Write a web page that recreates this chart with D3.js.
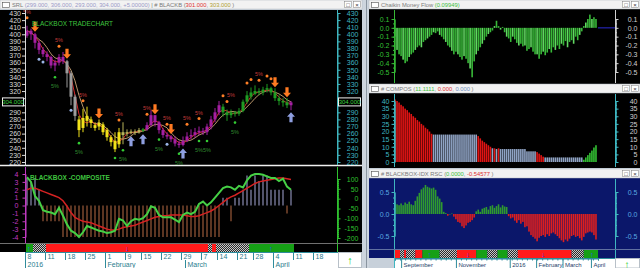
<!DOCTYPE html>
<html>
<head>
<meta charset="utf-8">
<script src="https://cdn.jsdelivr.net/npm/d3@7"></script>
<style>
  body { margin: 0; background: #c7d0da; }
  svg { display: block; font-family: "Liberation Sans", Arial, sans-serif; }
</style>
</head>
<body>
<div id="chart"></div>
<script>
// ---- left window: daily candles, early Jan to Apr 8 2016 ----
var openPx  = [398,405,400,388,378,372,368,356,360,368, 362,345,312,280,268,285,280,272,270,273,
               265,255,250,245,262,260,262,263,262,265, 266,272,286,276,265,258,256,252,246,244,
               250,256,258,262,264,262,270,280,290,298, 290,286,290,288,292,305,312,316,320,318,
               322,324,318,310,306,304,300];
var closePx = [405,400,388,378,372,368,356,360,368,362, 345,312,285,265,282,278,275,268,275,262,
               255,248,238,262,258,262,263,262,265,266, 272,286,276,265,258,256,252,246,244,250,
               256,258,262,264,262,270,280,290,300,290, 286,290,288,292,305,314,318,320,318,322,
               324,318,310,306,304,300,304];
var highPx  = [412,408,402,392,382,376,370,364,372,375, 364,348,315,285,295,298,284,276,280,276,
               268,258,262,268,276,266,266,266,268,268, 276,293,286,278,268,262,258,256,250,256,
               262,266,268,270,268,274,285,296,306,302, 294,294,292,296,308,320,325,328,324,326,
               330,326,324,314,310,310,306];
var lowPx   = [395,392,380,372,368,362,352,348,356,358, 325,300,278,255,262,270,268,264,265,258,
               250,242,234,240,245,256,259,258,260,262, 264,270,270,260,254,252,248,242,240,242,
               248,252,254,258,258,258,266,276,286,284, 278,282,284,285,290,302,308,314,314,314,
               318,314,306,300,298,296,293];
var candleTone = ("mmmmmmmmmm" + "ggg" + "yyyyyyyyyyy" + "ooooo" + "G" +
                  "mmmmmmmmmmmmmmmmmmm" + "GGGGGGGGGGGGGGGGG" + "m").split("");

var dayLabels   = ["8","11","18","25","1","9","15","22","29","7","14","21","28","4","11","18"];
var dayLabelIdx = [0,5,10,15,20,25,29,34,39,44,48,53,57,62,67,72];
var monthLabels   = ["2016","February","March","April"];
var monthLabelIdx = [0,20,40,62];

var priceTicks = [430,420,410,400,390,380,370,360,350,340,330,320,310,300,290,280,270,260,250,240,230,220];
var compTicks = [4,3,2,1,0,-1,-2,-3,-4];
var compRightTicks = [100,50,0,-50,-100,-150,-200];

// trade signals drawn on the candles (candle index)
var downArrowIdx = [2,10,18,32,36,62,65];
var upArrowIdx = [26,29,39,66];
var topDotIdx = [0,8,14,23,30,35,40,43,49,50,55,56,58,60,61];
var topPctIdx = [0,8,14,23,30,35,40,43,51,58];
var bottomDotIdx = [7,13,22,24,33,38,43,45,52];
var bottomPctIdx = [7,13,24,33,38,43,45,52];
var blueDotIdx = [3,4,11,35];

// BLACKBOX-COMPOSITE
var compLine = [3.6,3.0,1.2,0.6,-0.6,-0.8,-0.9,-1.1,-0.3,-1.3,
                -2.4,-3.2,-3.5,-4.0,-3.4,-2.6,-2.8,-3.0,-3.2,-3.3,
                -3.5,-3.4,-3.2,-1.7,-1.9,-2.6,-2.0,-1.7,-1.8,-1.6,
                -1.1,-0.1,-0.3,-1.2,-1.5,-1.5,-1.5,-1.8,-2.1,-1.2,
                -0.9,-1.1,-0.8,0.2,0.5,0.0,0.4,1.0,1.6,2.2,
                2.4,2.3,2.0,2.5,2.3,3.2,3.8,4.0,4.0,3.9,
                3.7,3.5,3.5,3.1,3.4,2.4,2.0];
var compAvg = [2.0,2.2,2.2,2.0,1.8,1.6,1.4,1.2,1.0,0.6,
               -0.1,-0.9,-1.5,-1.8,-2.0,-2.1,-2.2,-2.4,-2.6,-2.8,
               -3.0,-3.1,-3.1,-3.0,-2.8,-2.7,-2.6,-2.5,-2.3,-2.1,
               -1.9,-1.7,-1.5,-1.4,-1.3,-1.3,-1.2,-1.2,-1.2,-1.2,
               -1.3,-1.4,-1.4,-1.3,-1.1,-0.9,-0.7,-0.4,0.0,0.4,
               0.8,1.1,1.3,1.6,1.9,2.2,2.5,2.8,3.0,3.1,
               3.2,3.3,3.4,3.5,3.5,3.4,3.3];
var compBar = [3.5,3.0,3.5,2.0,-2,-2,-2,-2,-2,-4,
               -4,-4,-4,-4,-4,-4,-4,-4,-4,-4,
               -4,-4,-4,-4,-4,-4,-4,-4,-4,-4,
               -4,-4,-4,-4,-4,-4,-4,-4,-4,-4,
               -4,-4,-4,-4,-4,-4,-4,-4,-4,1,
               1,-2,1,1,2,3.8,2,3.8,3.1,3.8,
               3.8,2,2,2,2,-1,2];

var stripFrom  = [-0.25,1.5,4.75,45.25,46.25,47.25,55.5];
var stripTo    = [1.5,4.75,45.25,46.25,47.25,55.5,66.75];
var stripState = ["buy","hold","sell","hold","sell","hold","buy"];
var stripArrowIdx = [0.5,25,61];
var stripArrowDir = ["up","down","up"];

// ---- right windows (Aug 2015 - Apr 2016) ----
var cmfVals = [-0.10,-0.25,-0.30,-0.32,-0.36,-0.40,-0.38,-0.33,-0.30,-0.28,
               -0.25,-0.22,-0.20,-0.22,-0.16,-0.14,-0.12,-0.10,-0.08,-0.05,
               -0.06,-0.04,-0.08,-0.10,-0.13,-0.16,-0.20,-0.22,-0.26,-0.30,
               -0.27,-0.30,-0.33,-0.36,-0.32,-0.35,-0.40,-0.46,-0.56,-0.38,
               -0.30,-0.26,-0.22,-0.18,-0.14,-0.10,-0.07,-0.05,-0.03,0.02,
               0.08,0.02,-0.02,0.01,-0.05,-0.10,-0.12,-0.16,-0.10,-0.13,
               -0.17,-0.20,-0.18,-0.21,-0.20,-0.26,-0.24,-0.22,-0.27,-0.30,
               -0.30,-0.35,-0.30,-0.27,-0.31,-0.28,-0.24,-0.28,-0.22,-0.25,
               -0.20,-0.24,-0.18,-0.20,-0.15,-0.22,-0.16,-0.14,-0.18,-0.10,
               -0.14,-0.08,-0.04,0.02,0.06,0.10,0.15,0.10,0.12,0.10];
var composVals = [41,40,39,37.5,36.5,35,34,32.5,31.5,30,
                  29,27.5,26.5,25,24,22.5,21.5,20,18.5,18,
                  18,18,18,18,18,18,18,18,18,18,
                  18,18,18,18,18,18,18,18,18,18,
                  18,17,15.5,14,13,12,11,10,9,9,
                  8.5,9,8.5,8.5,8.5,8.5,8.5,8.5,8.5,8.5,
                  8.5,8.5,8.5,8.5,8.5,7,7,7,7,7,
                  6.5,5.5,4.5,3.5,3,3,3,3,3,3,
                  3,3,3,3,3,3,3,3,3,3,
                  3,3,3,1.5,3,4.5,6,7.5,9.5,11];
var composTone = ("r".repeat(19) + "b".repeat(22) + "r".repeat(7) + "brbrbb" +
                  "b".repeat(16) + "r".repeat(4) + "b".repeat(19) + "g".repeat(7)).split("");
var rscVals = [0.27,0.22,0.20,0.24,0.20,0.26,0.23,0.28,0.22,0.20,
               0.30,0.40,0.48,0.56,0.60,0.66,0.62,0.60,0.58,0.60,
               0.55,0.40,0.35,0.27,0.05,0.02,-0.04,0.00,0.01,-0.06,
               -0.12,-0.18,-0.20,-0.28,-0.32,-0.26,-0.20,-0.18,-0.14,-0.08,
               0.06,0.10,0.05,0.12,0.14,0.16,0.10,0.18,0.20,0.14,
               0.18,0.22,0.15,0.20,0.17,0.16,-0.05,-0.10,-0.08,-0.15,
               -0.20,-0.14,-0.22,-0.18,-0.30,-0.28,-0.40,-0.48,-0.52,-0.56,
               -0.62,-0.54,-0.50,-0.48,-0.52,-0.46,-0.50,-0.44,-0.42,-0.46,
               -0.50,-0.55,-0.60,-0.64,-0.58,-0.62,-0.56,-0.50,-0.48,-0.52,
               -0.50,-0.55,-0.60,-0.52,-0.44,-0.42,-0.40,-0.42,-0.48,-0.58];
var rscSegFrom  = [0,2.5,4.5,5.5,10,13.5,22,30.5,40,45.5,50.5,55.5,60.5,87,93];
var rscSegTo    = [2.5,4.5,5.5,10,13.5,22,30.5,40,45.5,50.5,55.5,60.5,87,93,100];
var rscSegState = ["sell","hold","sell","hold","sell","buy","hold","sell","buy","hold","buy","hold","sell","hold","buy"];
var rscArrowIdx = [17,36,73,97];
var rscArrowDir = ["up","down","down","up"];
var rscMonthLabels = ["September","November","2016","February","March","April"];
var rscMonthIdx = [4,31,57.5,70.5,83.5,97.5];

var cmfTicks = [0.1,0,-0.1,-0.2,-0.3,-0.4,-0.5];
var composTicks = [40,35,30,25,20,15,10,5,0];
var rscTicks = [0.5,0,-0.5];

// ---- scales ----
var x   = d3.scaleLinear().domain([0, 72]).range([27, 315]);
var yP  = d3.scaleLinear().domain([220, 430]).range([162, 13]);
var yC  = d3.scaleLinear().domain([-4, 4]).range([237, 174]);
var yCR = d3.scaleLinear().domain([-200, 100]).range([238, 179]);
var xr  = d3.scaleLinear().domain([0, 100]).range([395, 598]);
var yCmf = d3.scaleLinear().domain([-0.5, 0.1]).range([72, 19]);
var yCo  = d3.scaleLinear().domain([0, 40]).range([162, 101]);
var yR   = d3.scaleLinear().domain([-0.5, 0.5]).range([236, 192]);

var svg = d3.select("#chart").append("svg").attr("width", 640).attr("height", 268);
var defs = svg.append("defs");
var pat = defs.append("pattern").attr("id", "chk").attr("width", 2).attr("height", 2)
    .attr("patternUnits", "userSpaceOnUse");
pat.append("rect").attr("width", 2).attr("height", 2).attr("fill", "#2a2a2a");
pat.append("rect").attr("width", 1).attr("height", 1).attr("fill", "#c8c8c8");
pat.append("rect").attr("x", 1).attr("y", 1).attr("width", 1).attr("height", 1).attr("fill", "#c8c8c8");
defs.append("clipPath").attr("id", "pclip").append("rect")
    .attr("x", 0).attr("y", 10).attr("width", 337).attr("height", 155);

svg.append("rect").attr("width", 640).attr("height", 268).attr("fill", "#c7d0da");

// ---- left window panels ----
svg.append("rect").attr("x", 0).attr("y", 10).attr("width", 362).attr("height", 258).attr("fill", "#000");
svg.append("line").attr("x1", 0).attr("x2", 362).attr("y1", 165.5).attr("y2", 165.5)
    .attr("stroke", "#f0f0f0").attr("stroke-width", 1.5);

var toneColor = {m: "#a51fa3", g: "#9c9c9c", y: "#f2e21a", o: "#b9b45a", G: "#1f9d23"};
var pricePanel = svg.append("g").attr("clip-path", "url(#pclip)");

function sma(arr, n) {
    return arr.map(function(d, i) { return d3.mean(arr.slice(Math.max(0, i - n + 1), i + 1)); });
}
var slowMa = sma(closePx, 5);
var fastMa = sma(closePx, 3);

pricePanel.append("path").datum(slowMa)
    .attr("d", d3.line().x((d, i) => x(i)).y(d => yP(d)))
    .attr("fill", "none").attr("stroke", "#b8956a").attr("stroke-width", 1);
pricePanel.append("path").datum(fastMa)
    .attr("d", d3.line().x((d, i) => x(i)).y(d => yP(d)))
    .attr("fill", "none").attr("stroke", "#d8282a").attr("stroke-width", 1);

pricePanel.selectAll("line.wick").data(closePx).enter().append("line")
    .attr("x1", (d, i) => x(i)).attr("x2", (d, i) => x(i))
    .attr("y1", (d, i) => yP(highPx[i])).attr("y2", (d, i) => yP(lowPx[i]))
    .attr("stroke", (d, i) => toneColor[candleTone[i]]);
pricePanel.selectAll("rect.body").data(closePx).enter().append("rect")
    .attr("x", (d, i) => x(i) - 1.5).attr("width", 3)
    .attr("y", (d, i) => yP(Math.max(openPx[i], d)))
    .attr("height", (d, i) => Math.max(1.5, Math.abs(yP(openPx[i]) - yP(d))))
    .attr("fill", (d, i) => toneColor[candleTone[i]]);

var arrowDown = "M0,0 L-4,-4.5 L-1.6,-4.5 L-1.6,-10 L1.6,-10 L1.6,-4.5 L4,-4.5 Z";
var arrowUp = "M0,0 L-4,4.5 L-1.6,4.5 L-1.6,10 L1.6,10 L1.6,4.5 L4,4.5 Z";
pricePanel.selectAll("path.dn").data(downArrowIdx).enter().append("path")
    .attr("d", arrowDown).attr("fill", "#ff7a22")
    .attr("transform", i => `translate(${x(i)},${yP(highPx[i]) - 1})`);
pricePanel.selectAll("path.up").data(upArrowIdx).enter().append("path")
    .attr("d", arrowUp).attr("fill", "#8f9fe0")
    .attr("transform", i => `translate(${x(i)},${yP(lowPx[i]) + 2})`);
pricePanel.selectAll("circle.top").data(topDotIdx).enter().append("circle")
    .attr("cx", i => x(i)).attr("cy", i => yP(highPx[i]) - 8).attr("r", 1.5).attr("fill", "#ff7f27");
pricePanel.selectAll("circle.bot").data(bottomDotIdx).enter().append("circle")
    .attr("cx", i => x(i)).attr("cy", i => yP(lowPx[i]) + 6).attr("r", 1.3).attr("fill", "#33cc33");
pricePanel.selectAll("circle.blu").data(blueDotIdx).enter().append("circle")
    .attr("cx", i => x(i)).attr("cy", i => yP(lowPx[i]) + 5).attr("r", 1.5).attr("fill", "#9ab4e6");
pricePanel.selectAll("text.tp").data(topPctIdx).enter().append("text")
    .attr("x", i => x(i)).attr("y", i => yP(highPx[i]) - 12).attr("text-anchor", "middle")
    .attr("font-size", 5.5).attr("fill", "#c23a3a").text("5%");
pricePanel.selectAll("text.bp").data(bottomPctIdx).enter().append("text")
    .attr("x", i => x(i)).attr("y", i => yP(lowPx[i]) + 17).attr("text-anchor", "middle")
    .attr("font-size", 5.5).attr("fill", "#2f8a2f").text("5%");

svg.append("text").attr("x", 32).attr("y", 26).attr("font-size", 6.5).attr("fill", "#3fc43f")
    .text("BLACKBOX TRADECHART");

// price axes
function paint(g, lineColor, textColor) {
    g.attr("font-family", null).attr("font-size", 7);
    g.select(".domain").attr("stroke", lineColor);
    g.selectAll(".tick line").attr("stroke", lineColor);
    g.selectAll(".tick text").attr("fill", textColor);
    return g;
}
var lastClose = closePx[closePx.length - 1];
var lastY = yP(lastClose);
var priceFmt = d => Math.abs(yP(d) - lastY) < 7 ? "" : String(d);
var leftP = svg.append("g").attr("transform", "translate(25,0)")
    .call(d3.axisLeft(yP).tickValues(priceTicks).tickSize(3).tickPadding(1).tickSizeOuter(0).tickFormat(priceFmt));
paint(leftP, "#d8d8d8", "#d8d8d8");
var rightP = svg.append("g").attr("transform", "translate(337.5,0)")
    .call(d3.axisRight(yP).tickValues(priceTicks).tickSize(3).tickSizeOuter(0).tickFormat(priceFmt));
paint(rightP, "#3fb6c0", "#3fb6c0");
rightP.selectAll(".tick text").attr("text-anchor", "end").attr("x", 21);
svg.append("line").attr("x1", 25.5).attr("x2", 25.5).attr("y1", 10).attr("y2", 165).attr("stroke", "#d8d8d8");
svg.append("line").attr("x1", 337.5).attr("x2", 337.5).attr("y1", 10).attr("y2", 165).attr("stroke", "#3fb6c0");

[[2, 21], [338, 22]].forEach(function(b) {
    svg.append("rect").attr("x", b[0] + 0.5).attr("y", lastY - 4.5).attr("width", b[1]).attr("height", 8)
        .attr("fill", "#000").attr("stroke", "#f0f0f0");
    svg.append("text").attr("x", b[0] + 0.5 + b[1] / 2).attr("y", lastY + 2).attr("text-anchor", "middle")
        .attr("font-size", 6).attr("fill", "#3fd03f").text(d3.format(".3f")(lastClose));
});

// composite panel
var compG = svg.append("g");
compG.selectAll("line.cb").data(compBar).enter().append("line")
    .attr("x1", (d, i) => x(i)).attr("x2", (d, i) => x(i))
    .attr("y1", yC(0)).attr("y2", d => yC(d))
    .attr("stroke", d => d < 0 ? "#9a5a3a" : "#8a8cb2").attr("stroke-width", 1.2);
compG.append("path").datum(compAvg)
    .attr("d", d3.line().x((d, i) => x(i)).y(d => yC(d)))
    .attr("fill", "none").attr("stroke", "#d42222").attr("stroke-width", 1.5);
compG.append("path").datum(compLine)
    .attr("d", d3.line().x((d, i) => x(i)).y(d => yC(d)))
    .attr("fill", "none").attr("stroke", "#45d045").attr("stroke-width", 2);
svg.append("text").attr("x", 30).attr("y", 180).attr("font-size", 6.5).attr("font-weight", "bold")
    .attr("fill", "#3fc43f").text("BLACKBOX -COMPOSITE");

var leftC = svg.append("g").attr("transform", "translate(25.5,0)")
    .call(d3.axisLeft(yC).tickValues(compTicks).tickSize(3).tickPadding(4).tickSizeOuter(0).tickFormat(d => String(d)));
paint(leftC, "#c03ac0", "#c03ac0");
svg.append("line").attr("x1", 25.5).attr("x2", 25.5).attr("y1", 167).attr("y2", 243).attr("stroke", "#c03ac0");
var rightC = svg.append("g").attr("transform", "translate(337.5,0)")
    .call(d3.axisRight(yCR).tickValues(compRightTicks).tickSize(3).tickSizeOuter(0).tickFormat(d => String(d)));
paint(rightC, "#2fc02f", "#2fc02f");
rightC.selectAll(".tick text").attr("text-anchor", "end").attr("x", 21);
svg.append("g").attr("transform", "translate(337.5,0)")
    .call(d3.axisRight(yCR).tickValues(d3.range(-200, 101, 10)).tickSize(1.5).tickFormat(""))
    .call(g => g.selectAll("line,path").attr("stroke", "#2fc02f"));
svg.append("line").attr("x1", 337.5).attr("x2", 337.5).attr("y1", 167).attr("y2", 252).attr("stroke", "#2fc02f");

// signal strip
var stripFill = {buy: "#16a016", sell: "#ff1a1a", hold: "url(#chk)"};
svg.append("line").attr("x1", 0).attr("x2", 362).attr("y1", 243.5).attr("y2", 243.5).attr("stroke", "#707070");
svg.selectAll("rect.strip").data(stripState).enter().append("rect")
    .attr("x", (d, i) => x(stripFrom[i])).attr("width", (d, i) => x(stripTo[i]) - x(stripFrom[i]))
    .attr("y", 244).attr("height", 8).attr("fill", d => stripFill[d]);
svg.selectAll("text.sa").data(stripArrowIdx).enter().append("text")
    .attr("x", d => x(d)).attr("y", 251).attr("text-anchor", "middle").attr("font-size", 7)
    .attr("font-weight", "bold").attr("fill", "#2a3cff").text((d, i) => stripArrowDir[i] == "up" ? "↑" : "↓");

// date axis
svg.append("rect").attr("x", 0).attr("y", 252).attr("width", 338).attr("height", 16).attr("fill", "#ffffff");
svg.append("line").attr("x1", 25).attr("x2", 338).attr("y1", 252.5).attr("y2", 252.5).attr("stroke", "#2f8c9c");
svg.append("line").attr("x1", 25.5).attr("x2", 25.5).attr("y1", 252).attr("y2", 268).attr("stroke", "#2f8c9c");
svg.selectAll("line.dt").data(dayLabelIdx).enter().append("line")
    .attr("x1", i => x(i) - 1.5).attr("x2", i => x(i) - 1.5).attr("y1", 252).attr("y2", 260)
    .attr("stroke", "#2f8c9c");
svg.selectAll("text.dt").data(dayLabels).enter().append("text")
    .attr("x", (d, i) => x(dayLabelIdx[i]) + 0.5).attr("y", 259).attr("font-size", 7)
    .attr("fill", "#2a7d8e").text(d => d);
svg.selectAll("line.mt").data(monthLabelIdx).enter().append("line")
    .attr("x1", i => x(i) - 1.5).attr("x2", i => x(i) - 1.5).attr("y1", 260).attr("y2", 268)
    .attr("stroke", "#2f8c9c");
svg.selectAll("text.mt").data(monthLabels).enter().append("text")
    .attr("x", (d, i) => x(monthLabelIdx[i]) + 0.5).attr("y", 267).attr("font-size", 7)
    .attr("fill", "#2a7d8e").text(d => d);
svg.append("rect").attr("x", 338.5).attr("y", 252.5).attr("width", 23).attr("height", 15)
    .attr("fill", "#fff").attr("stroke", "#b8c0c8");
svg.append("text").attr("x", 350).attr("y", 264).attr("text-anchor", "middle").attr("font-size", 11)
    .attr("font-weight", "bold").attr("fill", "#22cc22").text("↑");

// gap between windows
svg.append("rect").attr("x", 362).attr("y", 0).attr("width", 7).attr("height", 268).attr("fill", "#cdd5de");
svg.append("line").attr("x1", 366.5).attr("x2", 366.5).attr("y1", 0).attr("y2", 268).attr("stroke", "#8a95a0");

// ---- right windows ----
svg.append("rect").attr("x", 369).attr("y", 9).attr("width", 271).attr("height", 75).attr("fill", "#000");
svg.append("rect").attr("x", 369).attr("y", 93).attr("width", 271).attr("height", 75).attr("fill", "#000");
svg.append("rect").attr("x", 369).attr("y", 178).attr("width", 271).attr("height", 80).attr("fill", "#0b176a");

var barW = 1.6;
svg.selectAll("rect.cmf").data(cmfVals).enter().append("rect")
    .attr("x", (d, i) => xr(i) - barW / 2).attr("width", barW)
    .attr("y", d => Math.min(yCmf(d), yCmf(0))).attr("height", d => Math.abs(yCmf(d) - yCmf(0)))
    .attr("fill", (d, i) => i % 3 == 1 ? "#62d862" : "#38b838");
svg.append("line").attr("x1", xr(100)).attr("x2", 615).attr("y1", yCmf(0)).attr("y2", yCmf(0))
    .attr("stroke", "#2424b0").attr("stroke-width", 1.2);

var composColor = {r: "#e01414", b: "#8fa3c4", g: "#33c033"};
svg.selectAll("rect.co").data(composVals).enter().append("rect")
    .attr("x", (d, i) => xr(i) - barW / 2).attr("width", barW)
    .attr("y", d => yCo(d)).attr("height", d => yCo(0) - yCo(d))
    .attr("fill", (d, i) => composColor[composTone[i]]);

svg.selectAll("rect.rsc").data(rscVals).enter().append("rect")
    .attr("x", (d, i) => xr(i) - barW / 2).attr("width", barW)
    .attr("y", d => Math.min(yR(d), yR(0))).attr("height", d => Math.max(0.5, Math.abs(yR(d) - yR(0))))
    .attr("fill", d => d >= 0 ? "#2f9a2f" : "#dd1f1f");

function sideAxes(scale, ticks, fmt, leftColor, leftText, rightColor, rightText, y0, y1, minorStep) {
    var l = svg.append("g").attr("transform", "translate(394.5,0)")
        .call(d3.axisLeft(scale).tickValues(ticks).tickSize(3).tickPadding(2).tickSizeOuter(0).tickFormat(fmt));
    paint(l, leftColor, leftText);
    var r = svg.append("g").attr("transform", "translate(615.5,0)")
        .call(d3.axisRight(scale).tickValues(ticks).tickSize(3).tickSizeOuter(0).tickFormat(fmt));
    paint(r, rightColor, rightText);
    r.selectAll(".tick text").attr("text-anchor", "end").attr("x", 22);
    var dom = scale.domain();
    var minor = d3.range(dom[0], dom[1] + minorStep / 2, minorStep);
    svg.append("g").attr("transform", "translate(394.5,0)")
        .call(d3.axisLeft(scale).tickValues(minor).tickSize(1.5).tickFormat(""))
        .call(g => g.selectAll("line,path").attr("stroke", leftColor));
    svg.append("g").attr("transform", "translate(615.5,0)")
        .call(d3.axisRight(scale).tickValues(minor).tickSize(1.5).tickFormat(""))
        .call(g => g.selectAll("line,path").attr("stroke", rightColor));
    svg.append("line").attr("x1", 394.5).attr("x2", 394.5).attr("y1", y0).attr("y2", y1).attr("stroke", leftColor);
    svg.append("line").attr("x1", 615.5).attr("x2", 615.5).attr("y1", y0).attr("y2", y1).attr("stroke", rightColor);
}
sideAxes(yCmf, cmfTicks, d => d.toFixed(1), "#35b835", "#35c035", "#d0d0d0", "#d0d0d0", 10, 83, 0.05);
sideAxes(yCo, composTicks, d => String(d), "#3fb6c0", "#3fb6c0", "#3fb6c0", "#d0d0d0", 94, 167, 2.5);
sideAxes(yR, rscTicks, d => d.toFixed(1), "#3fb6c0", "#5aa8e0", "#3fb6c0", "#5aa8e0", 179, 268, 0.125);

// rsc signal strip and dates
svg.append("line").attr("x1", 369).attr("x2", 640).attr("y1", 249.5).attr("y2", 249.5).attr("stroke", "#6070a0");
svg.selectAll("rect.rs").data(rscSegState).enter().append("rect")
    .attr("x", (d, i) => xr(rscSegFrom[i])).attr("width", (d, i) => xr(rscSegTo[i]) - xr(rscSegFrom[i]))
    .attr("y", 250).attr("height", 8).attr("fill", d => stripFill[d]);
svg.selectAll("text.ra").data(rscArrowIdx).enter().append("text")
    .attr("x", d => xr(d)).attr("y", 257).attr("text-anchor", "middle").attr("font-size", 7)
    .attr("font-weight", "bold").attr("fill", "#2a3cff").text((d, i) => rscArrowDir[i] == "up" ? "↑" : "↓");
svg.append("rect").attr("x", 395).attr("y", 258).attr("width", 220).attr("height", 10).attr("fill", "#ffffff");
svg.append("line").attr("x1", 395).attr("x2", 615).attr("y1", 258.5).attr("y2", 258.5).attr("stroke", "#2f8c9c");
svg.append("g").attr("transform", "translate(0,258.5)")
    .call(d3.axisBottom(xr).tickValues(d3.range(0, 101, 2.5)).tickSize(2).tickFormat(""))
    .call(g => g.selectAll("line,path").attr("stroke", "#2f8c9c"));
svg.selectAll("line.rm").data(rscMonthIdx).enter().append("line")
    .attr("x1", d => xr(d) - 1.5).attr("x2", d => xr(d) - 1.5).attr("y1", 258).attr("y2", 268)
    .attr("stroke", "#2f8c9c");
svg.selectAll("text.rm").data(rscMonthLabels).enter().append("text")
    .attr("x", (d, i) => xr(rscMonthIdx[i]) + 0.5).attr("y", 266.5).attr("font-size", 6)
    .attr("fill", "#1c3c6a").text(d => d);
svg.append("rect").attr("x", 615.5).attr("y", 258.5).attr("width", 24).attr("height", 9.5)
    .attr("fill", "#fff").attr("stroke", "#b8c0c8");
svg.append("text").attr("x", 627).attr("y", 267.5).attr("text-anchor", "middle").attr("font-size", 10)
    .attr("font-weight", "bold").attr("fill", "#22cc22").text("↑");

// ---- title bars ----
function titleBar(x0, y0, w, parts) {
    var g = svg.append("g");
    g.append("rect").attr("x", x0).attr("y", y0).attr("width", w).attr("height", 9)
        .attr("fill", "#f2f2f2").attr("stroke", "#b0b8c0").attr("stroke-width", 0.5);
    g.append("rect").attr("x", x0 + 2.5).attr("y", y0 + 2.5).attr("width", 7).attr("height", 5)
        .attr("fill", "#fff").attr("stroke", "#505050").attr("stroke-width", 0.6);
    var t = g.append("text").attr("x", x0 + 12).attr("y", y0 + 7).attr("font-size", 5.8);
    parts.forEach(p => t.append("tspan").attr("fill", p[1]).text(p[0]));
    [w - 18, w - 9].forEach(function(bx, k) {
        g.append("rect").attr("x", x0 + bx + 0.5).attr("y", y0 + 1.5).attr("width", 7).attr("height", 6)
            .attr("fill", "#fff").attr("stroke", "#808080").attr("stroke-width", 0.5);
        g.append("text").attr("x", x0 + bx + 4).attr("y", y0 + 6.8).attr("text-anchor", "middle")
            .attr("font-size", 6).attr("fill", "#303030").text(k == 0 ? "□" : "×");
    });
}
var grey = "#7a7a7a";
titleBar(0, 0, 362, [["SRL ", grey], ["(299.000, 306.000, 293.000, 304.000, +5.00000)", "#9a9ac8"],
    [" | # BLACKB (", grey], ["301.000", "#e03030"], [", ", grey], ["303.000", "#b0a030"], [" )", grey]]);
titleBar(369, 0, 271, [["Chaikin Money Flow ", grey], ["(0.09949)", "#40c040"]]);
titleBar(369, 84, 271, [["# COMPOS (", grey], ["11.1111", "#40c040"], [", ", grey], ["0.000", "#e03030"],
    [", ", grey], ["0.000", "#7090c0"], [" )", grey]]);
titleBar(369, 169, 271, [["# BLACKBOX-IDX RSC (", grey], ["0.0000", "#40c040"], [", ", grey],
    ["-0.54577", "#e03030"], [" )", grey]]);
</script>
</body>
</html>
